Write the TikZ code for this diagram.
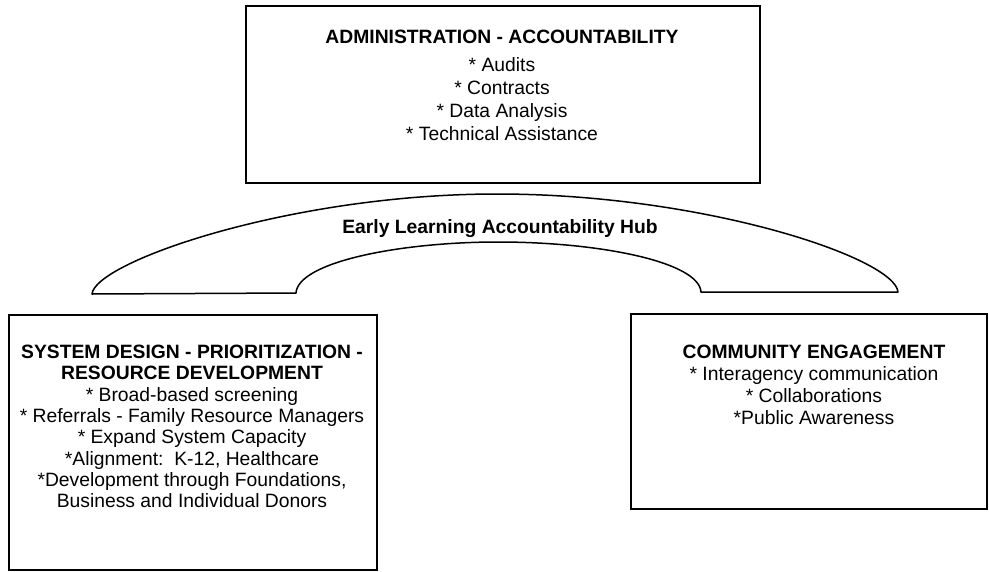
\documentclass[tikz,border=0pt]{standalone}
\usepackage{fontspec}
\setmainfont{Liberation Sans}
\begin{document}
\begin{tikzpicture}[x=1pt,y=-1pt,
  box/.style={draw, line width=1.8pt, rectangle, inner sep=0pt},
  txt/.style={align=center, inner sep=0pt},
  archline/.style={draw, line width=1.5pt, line join=round}]
\useasboundingbox (0,0) rectangle (989,571);
\fill[white] (0,0) rectangle (989,571);

% boxes
\node[box, anchor=north west, minimum width=514pt, minimum height=177pt] (admin) at (245,5) {};
\node[box, anchor=north west, minimum width=368pt, minimum height=255pt] (design) at (8,314) {};
\node[box, anchor=north west, minimum width=356pt, minimum height=195pt] (community) at (630,313) {};

% texts
\node[txt, anchor=north, font=\fontsize{19.3}{23}\selectfont] (admintext) at (502,30)
  {\textbf{ADMINISTRATION - ACCOUNTABILITY}\\[5pt]
   * Audits\\ * Contracts\\ * Data Analysis\\ * Technical Assistance};

\node[txt, anchor=north, font=\fontsize{19.3}{21.3}\selectfont] (designtext) at (192,345)
  {\textbf{SYSTEM DESIGN - PRIORITIZATION -}\\
   \textbf{RESOURCE DEVELOPMENT}\\
   * Broad-based screening\\
   * Referrals - Family Resource Managers\\
   * Expand System Capacity\\
   *Alignment:\ \ K-12, Healthcare\\
   *Development through Foundations,\\
   Business and Individual Donors};

\node[txt, anchor=north, font=\fontsize{19.3}{22}\selectfont] (commtext) at (814,345)
  {\textbf{COMMUNITY ENGAGEMENT}\\
   * Interagency communication\\
   * Collaborations\\
   *Public Awareness};

% hub arch
\path[archline] (92,294) -- (296,293)
  .. controls (298,262) and (400,242) .. (498,242)
  .. controls (600,242) and (699,262) .. (701,292)
  -- (898,292)
  .. controls (895,258) and (704,194) .. (497,194)
  .. controls (290,194) and (95,262) .. cycle;
\node[txt, anchor=base, font=\fontsize{19.3}{23}\selectfont\bfseries] (hub) at (500,233)
  {Early Learning Accountability Hub};
\end{tikzpicture}
\end{document}
